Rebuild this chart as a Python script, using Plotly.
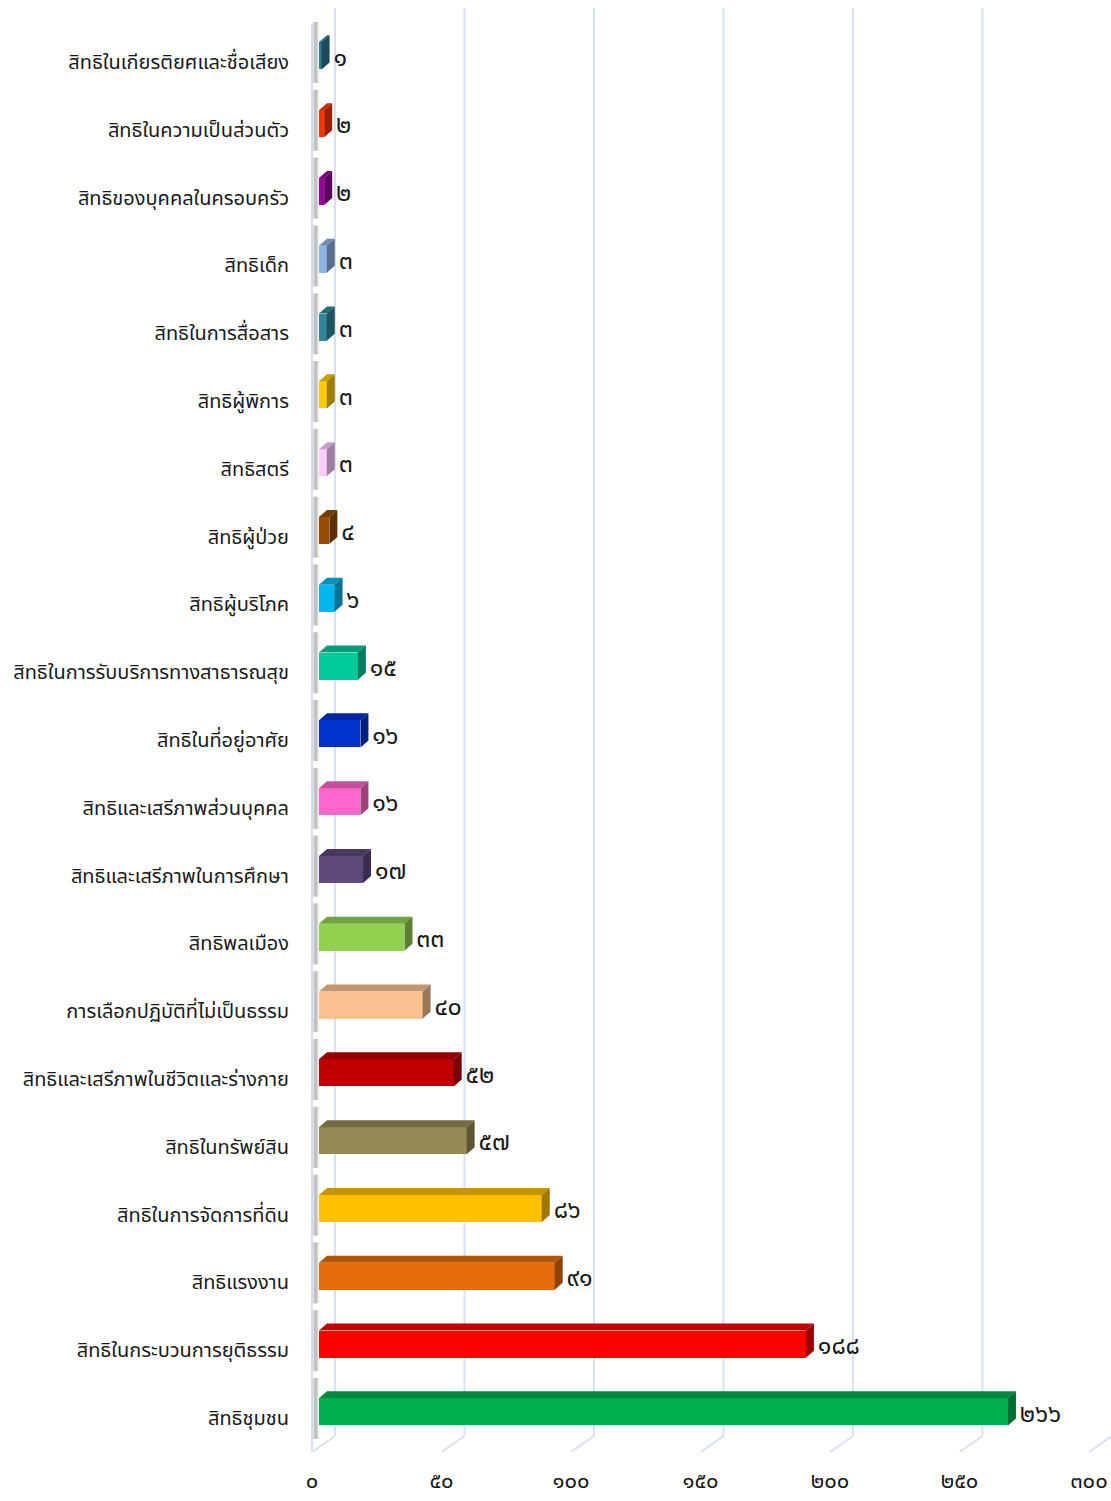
import plotly.graph_objects as go

categories = [
    "สิทธิในเกียรติยศและชื่อเสียง",
    "สิทธิในความเป็นส่วนตัว",
    "สิทธิของบุคคลในครอบครัว",
    "สิทธิเด็ก",
    "สิทธิในการสื่อสาร",
    "สิทธิผู้พิการ",
    "สิทธิสตรี",
    "สิทธิผู้ป่วย",
    "สิทธิผู้บริโภค",
    "สิทธิในการรับบริการทางสาธารณสุข",
    "สิทธิในที่อยู่อาศัย",
    "สิทธิและเสรีภาพส่วนบุคคล",
    "สิทธิและเสรีภาพในการศึกษา",
    "สิทธิพลเมือง",
    "การเลือกปฏิบัติที่ไม่เป็นธรรม",
    "สิทธิและเสรีภาพในชีวิตและร่างกาย",
    "สิทธิในทรัพย์สิน",
    "สิทธิในการจัดการที่ดิน",
    "สิทธิแรงงาน",
    "สิทธิในกระบวนการยุติธรรม",
    "สิทธิชุมชน",
]
values = [1, 2, 2, 3, 3, 3, 3, 4, 6, 15, 16, 16, 17, 33, 40, 52, 57, 86, 91, 188, 266]
colors = [
    "#2B7A93", "#FF3300", "#990099", "#8EB4E3", "#31859C", "#FFCC00", "#FFCCFF",
    "#994C00", "#00B8F0", "#00CC99", "#0033CC", "#FF66CC", "#604A7B", "#92D050",
    "#FAC090", "#C00000", "#948A54", "#FFC000", "#E46C0A", "#FF0000", "#00B050",
]
x_ticks = [0, 50, 100, 150, 200, 250, 300]

THAI = str.maketrans("0123456789", "๐๑๒๓๔๕๖๗๘๙")
def thai(n):
    return str(n).translate(THAI)

def shade(hexc, f):
    h = hexc.lstrip("#")
    r, g, b = int(h[0:2], 16), int(h[2:4], 16), int(h[4:6], 16)
    return "rgb(%d,%d,%d)" % (int(r * f), int(g * f), int(b * f))

FONT = "Leelawadee UI, Tahoma, Noto Sans Thai, Noto Sans, sans-serif"
W, H = 1111, 1501
ML = 300
PLOT_BOTTOM = 1452
MB = H - PLOT_BOTTOM
PX_PER_UNIT = 2.59           # horizontal scale
ROW_PX = 67.8                # category spacing
X0 = -(319 - ML) / PX_PER_UNIT
X1 = X0 + (W - ML) / PX_PER_UNIT
Y_TOP = -62 / ROW_PX
Y_BOT = Y_TOP + PLOT_BOTTOM / ROW_PX

def py(p):  # pixel row -> data y
    return Y_TOP + p / ROW_PX

DX = 8 / PX_PER_UNIT         # bar depth (x)
DY = 7 / ROW_PX              # bar depth (y)
HALF = 0.2                   # half bar thickness
OFF = -0.09                  # bar center offset from category
FRONT_DX = -7 / PX_PER_UNIT
BACK_DX = 16 / PX_PER_UNIT

idx = list(range(len(categories)))
bar_y = [i + OFF for i in idx]

fig = go.Figure()

shapes = []
grid_col = "#D6E2F3"
for v in x_ticks:
    shapes.append(dict(type="line", xref="x", yref="y", x0=v + BACK_DX, x1=v + BACK_DX,
                       y0=py(8), y1=py(1436), line=dict(color=grid_col, width=2), layer="below"))
    shapes.append(dict(type="line", xref="x", yref="y", x0=v + FRONT_DX, x1=v + BACK_DX,
                       y0=py(1452), y1=py(1436), line=dict(color=grid_col, width=2), layer="below"))
shapes.append(dict(type="line", xref="x", yref="y", x0=FRONT_DX, x1=FRONT_DX,
                   y0=py(24), y1=py(1452), line=dict(color=grid_col, width=2), layer="below"))

# soft wall shadows behind bars
for yc in bar_y:
    for w, a in [(8, 0.06), (5, 0.12), (3, 0.18)]:
        shapes.append(dict(type="line", xref="x", yref="y", x0=-1.3, x1=-1.3,
                           y0=yc - HALF - 0.3, y1=yc + HALF + 0.2,
                           line=dict(color="rgba(60,60,60,%.2f)" % a, width=w), layer="below"))

fig.add_trace(go.Bar(
    x=values, y=bar_y, orientation="h", width=2 * HALF,
    marker=dict(color=colors, line=dict(width=0)), hoverinfo="skip", showlegend=False,
))

for v, yc, c in zip(values, bar_y, colors):
    t = yc - HALF
    b = yc + HALF
    top = f"M 0 {t} L {v} {t} L {v + DX} {t - DY} L {DX} {t - DY} Z"
    side = f"M {v} {t} L {v + DX} {t - DY} L {v + DX} {b - DY} L {v} {b} Z"
    shapes.append(dict(type="path", xref="x", yref="y", path=top,
                       fillcolor=shade(c, 0.78), line=dict(width=0)))
    shapes.append(dict(type="path", xref="x", yref="y", path=side,
                       fillcolor=shade(c, 0.62), line=dict(width=0)))

fig.add_trace(go.Scatter(
    x=[v + DX + 1.5 for v in values], y=[y + 0.05 for y in bar_y], mode="text",
    text=[thai(v) for v in values], textposition="middle right",
    textfont=dict(family=FONT, size=25, color="#1a1a1a"),
    hoverinfo="skip", showlegend=False,
))

fig.add_trace(go.Scatter(x=[None], y=[None], xaxis="x2", showlegend=False, hoverinfo="skip"))

fig.update_layout(
    width=W, height=H,
    margin=dict(l=ML, r=0, t=0, b=MB),
    paper_bgcolor="white", plot_bgcolor="white",
    shapes=shapes,
    xaxis=dict(range=[X0, X1], showgrid=False, zeroline=False, showticklabels=False,
               showline=False, automargin=False),
    xaxis2=dict(range=[X0 - FRONT_DX, X1 - FRONT_DX], overlaying="x", side="bottom",
                anchor="y", tickvals=x_ticks, ticktext=[thai(t) for t in x_ticks],
                showgrid=False, zeroline=False, showline=False, automargin=False,
                tickfont=dict(family=FONT, size=22, color="#1a1a1a"),
                ticklabelstandoff=13, ticklabeloverflow="allow"),
    yaxis=dict(range=[Y_BOT, Y_TOP], tickvals=idx, ticktext=categories,
               showgrid=False, zeroline=False, showline=False, automargin=False,
               tickfont=dict(family=FONT, size=20, color="#1a1a1a"),
               ticklabelstandoff=10),
    bargap=0,
)

fig.write_html("out.html", config={"displayModeBar": False},
               post_script="document.body.style.margin='0';document.body.style.overflow='hidden';")
